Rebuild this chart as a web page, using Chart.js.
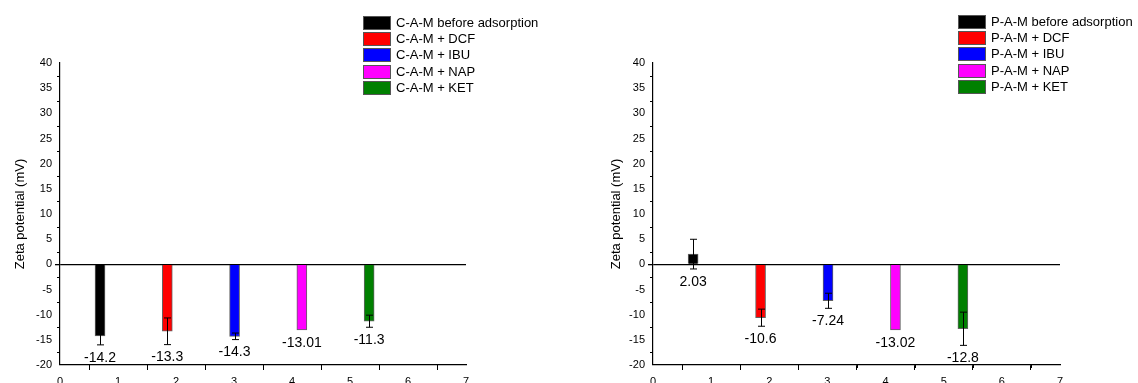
<!DOCTYPE html>
<html>
<head>
<meta charset="utf-8">
<title>Zeta potential</title>
<script src="https://cdn.jsdelivr.net/npm/chart.js@4.4.0/dist/chart.umd.min.js"></script>
<style>
html,body{margin:0;padding:0;background:#fff;overflow:hidden;width:1138px;height:383px}
canvas{position:absolute;top:0}
#camChart{left:0}
#pamChart{left:590px}
</style>
</head>
<body>
<canvas id="camChart" width="560" height="400"></canvas>
<canvas id="pamChart" width="548" height="400"></canvas>
<script>
// ── Data ─────────────────────────────────────────────────────
const barPositions = [0.69, 1.85, 3.01, 4.17, 5.33];
const barColors = ['#000000', '#ff0000', '#0000ff', '#ff00ff', '#008000'];

const camLabels = ['C-A-M before adsorption', 'C-A-M + DCF', 'C-A-M + IBU', 'C-A-M + NAP', 'C-A-M + KET'];
const camValues = [-14.2, -13.3, -14.3, -13.01, -11.3];
const camErrors = [1.8, 2.65, 0.65, 0, 1.2];

const pamLabels = ['P-A-M before adsorption', 'P-A-M + DCF', 'P-A-M + IBU', 'P-A-M + NAP', 'P-A-M + KET'];
const pamValues = [2.03, -10.6, -7.24, -13.02, -12.8];
const pamErrors = [2.95, 1.7, 1.5, 0, 3.3];

const yTitle = 'Zeta potential (mV)';
const FONT = '"Liberation Sans", Arial, Helvetica, sans-serif';

Chart.defaults.font.family = FONT;
Chart.defaults.color = '#000';

// ── Error bars, value labels, minor ticks, legend ────────────
const zetaDecor = {
  id: 'zetaDecor',
  afterDatasetsDraw(chart, args, opts) {
    const ctx = chart.ctx, ys = chart.scales.y;
    ctx.save();
    ctx.strokeStyle = '#000';
    ctx.lineWidth = 1;
    ctx.fillStyle = '#000';
    ctx.font = '14px ' + FONT;
    ctx.textAlign = 'center';
    ctx.textBaseline = 'middle';
    chart.data.datasets.forEach((ds, i) => {
      const bar = chart.getDatasetMeta(i).data[0];
      const v = ds.data[0].y, e = opts.errors[i];
      const x = Math.round(bar.x) + 0.5;
      if (e > 0) {
        const y1 = ys.getPixelForValue(v + e), y2 = ys.getPixelForValue(v - e);
        ctx.beginPath();
        ctx.moveTo(x, y1); ctx.lineTo(x, y2);
        ctx.moveTo(x - 3.5, y1); ctx.lineTo(x + 3.5, y1);
        ctx.moveTo(x - 3.5, y2); ctx.lineTo(x + 3.5, y2);
        ctx.stroke();
      }
      const low = Math.min(0, v - e);
      ctx.fillText(String(v), bar.x, ys.getPixelForValue(low) + 13);
    });
    ctx.restore();
  },
  afterDraw(chart, args, opts) {
    const ctx = chart.ctx, xs = chart.scales.x, ys = chart.scales.y;
    const area = chart.chartArea;
    ctx.save();
    ctx.strokeStyle = '#000';
    ctx.lineWidth = 1;
    ctx.beginPath();
    // minor ticks
    for (let v = 0.5; v < 7; v += 1) {
      const px = Math.round(xs.getPixelForValue(v)) + 0.5;
      ctx.moveTo(px, area.bottom); ctx.lineTo(px, area.bottom + 3);
    }
    for (let v = -17.5; v < 40; v += 5) {
      const py = Math.round(ys.getPixelForValue(v)) + 0.5;
      ctx.moveTo(area.left, py); ctx.lineTo(area.left - 3, py);
    }
    ctx.stroke();

    // legend
    const lg = opts.legend;
    ctx.font = '13px ' + FONT;
    ctx.textAlign = 'left';
    ctx.textBaseline = 'middle';
    chart.data.datasets.forEach((ds, i) => {
      const top = Math.round(lg.y + i * 16.2);
      ctx.fillStyle = ds.backgroundColor;
      ctx.fillRect(lg.x, top, 28, 14);
      ctx.strokeStyle = '#555';
      ctx.strokeRect(lg.x + 0.5, top + 0.5, 27, 13);
      ctx.fillStyle = '#000';
      ctx.fillText(ds.label, lg.x + 33, top + 7.5);
    });
    ctx.restore();
  }
};

function makeChart(id, labels, values, errors, cfg) {
  const datasets = labels.map((lab, i) => ({
    label: lab,
    data: [{ x: barPositions[i], y: values[i] }],
    backgroundColor: barColors[i],
    borderColor: 'rgba(70,70,70,0.85)',
    borderWidth: 1,
    barThickness: 10,
    grouped: false
  }));

  return new Chart(document.getElementById(id), {
    type: 'bar',
    data: { datasets },
    options: {
      responsive: false,
      animation: false,
      layout: { padding: { top: 63, right: cfg.padRight, left: 0, bottom: 0 } },
      plugins: {
        legend: { display: false },
        tooltip: { enabled: false },
        zetaDecor: { errors, legend: cfg.legend }
      },
      scales: {
        x: {
          type: 'linear',
          min: 0, max: 7,
          offset: false,
          afterFit(scale) { scale.height = 35; },
          border: { display: true, color: '#000', width: 1.2 },
          grid: { drawOnChartArea: false, drawTicks: true, tickLength: 5, tickColor: '#000' },
          ticks: { stepSize: 1, padding: 5, font: { size: 11 }, color: '#000', maxRotation: 0 }
        },
        y: {
          min: -20, max: 40,
          afterFit(scale) { scale.width = cfg.axisWidth; },
          border: { display: true, color: '#000', width: 1.2 },
          grid: {
            drawOnChartArea: true,
            drawTicks: true,
            tickLength: 5,
            tickColor: '#000',
            color: c => (c.tick && c.tick.value === 0) ? '#000' : 'rgba(0,0,0,0)',
            lineWidth: c => (c.tick && c.tick.value === 0) ? 1.3 : 0
          },
          ticks: { stepSize: 5, padding: 3, font: { size: 11 }, color: '#000' },
          title: {
            display: true,
            text: yTitle,
            font: { size: 13 },
            color: '#000',
            padding: { top: cfg.titlePad, bottom: 0 }
          }
        }
      }
    },
    plugins: [zetaDecor]
  });
}

makeChart('camChart', camLabels, camValues, camErrors,
  { padRight: 94, axisWidth: 60, titlePad: 13, legend: { x: 363, y: 16 } });
makeChart('pamChart', pamLabels, pamValues, pamErrors,
  { padRight: 78, axisWidth: 63, titlePad: 19, legend: { x: 368, y: 15 } });
</script>
</body>
</html>
